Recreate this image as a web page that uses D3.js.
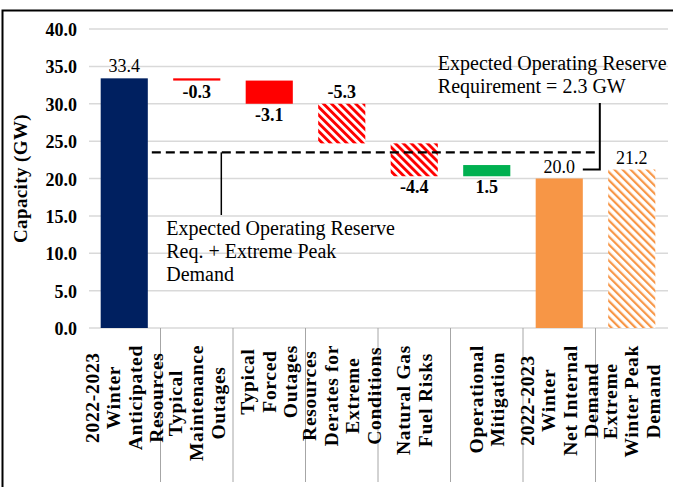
<!DOCTYPE html>
<html lang="en">
<head>
<meta charset="UTF-8">
<title>Winter capacity waterfall</title>
<script src="https://cdn.jsdelivr.net/npm/d3@7"></script>
<style>
  body { margin: 0; background: #fff; }
  text { font-family: "Liberation Serif", "Times New Roman", serif; fill: #000; }
</style>
</head>
<body>
<svg id="chart" width="673" height="487"></svg>
<script>
// ---- data ----
var categories = [
  ["2022-2023", "Winter", "Anticipated", "Resources"],
  ["Typical", "Maintenance", "Outages"],
  ["Typical", "Forced", "Outages"],
  ["Resources", "Derates for", "Extreme", "Conditions"],
  ["Natural Gas", "Fuel Risks"],
  ["Operational", "Mitigation"],
  ["2022-2023", "Winter", "Net Internal", "Demand"],
  ["Extreme", "Winter Peak", "Demand"]
];
var values = [33.4, -0.3, -3.1, -5.3, -4.4, 1.5, 20.0, 21.2];
var isTotal = [true, false, false, false, false, false, true, true];
var yTicks = [0, 5, 10, 15, 20, 25, 30, 35, 40];
var reserveReq = 2.3;
var noteRight = ["Expected Operating Reserve", "Requirement = 2.3 GW"];
var noteLeft = ["Expected Operating Reserve", "Req. + Extreme Peak", "Demand"];

// ---- look ----
var barFills = ["#002060", "#FF0000", "#FF0000", "url(#hatchRed)", "url(#hatchRed)",
                "#00B050", "#F79646", "url(#hatchOrange)"];
var labelSide = ["above", "below", "below", "above", "below", "below", "above", "above"];

var fmt = d3.formatLocale({decimal: ".", thousands: ",", grouping: [3], currency: ["", ""], minus: "-"})
    .format(".1f");

var svg = d3.select("#chart");
var margin = {top: 29, left: 88, right: 5};
var plotRight = 668;
var plotBottom = 328;

var x = d3.scaleBand()
    .domain(d3.range(values.length))
    .range([margin.left, plotRight])
    .paddingInner(0.35)
    .paddingOuter(0.175);

var y = d3.scaleLinear()
    .domain([0, 40])
    .range([plotBottom, margin.top]);

// waterfall spans
var running = 0;
var spans = values.map(function (v, i) {
    var s;
    if (isTotal[i]) {
        s = {lo: 0, hi: v};
        running = v;
    } else {
        s = {lo: Math.min(running, running + v), hi: Math.max(running, running + v)};
        running += v;
    }
    s.v = v;
    s.i = i;
    return s;
});

// patterns
var defs = svg.append("defs");
function hatch(id, color, thick) {
    var p = defs.append("pattern")
        .attr("id", id)
        .attr("patternUnits", "userSpaceOnUse")
        .attr("width", 5.7)
        .attr("height", 5.7)
        .attr("patternTransform", "rotate(-45)");
    p.append("rect").attr("width", 5.7).attr("height", 5.7).attr("fill", "#fff");
    p.append("rect").attr("width", thick).attr("height", 5.7).attr("fill", color);
}
hatch("hatchRed", "#FF0000", 2.9);
hatch("hatchOrange", "#F79646", 2.2);

// border
svg.append("rect")
    .attr("x", 2.5).attr("y", 10.5)
    .attr("width", 720).attr("height", 520)
    .attr("fill", "none")
    .attr("stroke", "#000")
    .attr("stroke-width", 2);

// gridlines
svg.append("g").selectAll("line")
    .data(yTicks)
    .enter().append("line")
    .attr("x1", margin.left + 1).attr("x2", plotRight)
    .attr("y1", function (d) { return y(d); })
    .attr("y2", function (d) { return y(d); })
    .attr("stroke", "#d9d9d9")
    .attr("stroke-width", 1.5);

// y tick labels
svg.append("g").selectAll("text")
    .data(yTicks)
    .enter().append("text")
    .attr("x", 77)
    .attr("y", function (d) { return y(d) + 7; })
    .attr("text-anchor", "end")
    .style("font-size", "18px")
    .style("font-weight", "bold")
    .text(function (d) { return fmt(d); });

// y title
svg.append("text")
    .attr("transform", "translate(20," + ((plotBottom + margin.top) / 2) + ") rotate(-90)")
    .attr("text-anchor", "middle")
    .attr("dominant-baseline", "central")
    .style("font-size", "19px")
    .style("font-weight", "bold")
    .style("letter-spacing", "0.4px")
    .text("Capacity (GW)");

// category separators
svg.append("g").selectAll("line")
    .data(d3.range(1, values.length))
    .enter().append("line")
    .attr("x1", function (d) { return x(d) - x.step() * x.paddingInner() / 2; })
    .attr("x2", function (d) { return x(d) - x.step() * x.paddingInner() / 2; })
    .attr("y1", plotBottom).attr("y2", 482)
    .attr("stroke", "#a6a6a6")
    .attr("stroke-width", 1);

// category labels (rotated, each line centred in its block)
var lineGap = 21.5;
categories.forEach(function (lines, i) {
    var cx = x(i) + x.bandwidth() / 2;
    var g = svg.append("g");
    var texts = g.selectAll("text")
        .data(lines)
        .enter().append("text")
        .attr("text-anchor", "middle")
        .attr("dominant-baseline", "central")
        .style("font-size", "19.5px")
        .style("font-weight", "bold")
        .style("letter-spacing", "0.7px")
        .text(function (d) { return d; });
    var maxLen = 0;
    texts.each(function () { maxLen = Math.max(maxLen, this.getComputedTextLength()); });
    var cy = plotBottom + 17 + maxLen / 2;
    texts.attr("transform", function (d, j) {
        var lx = cx + (j - (lines.length - 1) / 2) * lineGap;
        return "translate(" + lx + "," + cy + ") rotate(-90)";
    });
});

// bars
svg.append("g").selectAll("rect")
    .data(spans)
    .enter().append("rect")
    .attr("x", function (d) { return x(d.i); })
    .attr("width", x.bandwidth())
    .attr("y", function (d) { return y(d.hi); })
    .attr("height", function (d) { return y(d.lo) - y(d.hi); })
    .attr("fill", function (d) { return barFills[d.i]; });

// value labels
svg.append("g").selectAll("text")
    .data(spans)
    .enter().append("text")
    .attr("x", function (d) { return x(d.i) + x.bandwidth() / 2; })
    .attr("y", function (d) {
        return labelSide[d.i] === "above" ? y(d.hi) - 6 : y(d.lo) + 17;
    })
    .attr("text-anchor", "middle")
    .style("font-size", "18px")
    .style("font-weight", function (d) { return isTotal[d.i] ? "normal" : "bold"; })
    .text(function (d) { return fmt(d.v); });

// reserve requirement line
var reqLevel = values[7] + reserveReq;
var dashStart = x(0) + x.bandwidth() + 4;
var bracketX = x(6) + x.bandwidth() + 17;
svg.append("line")
    .attr("x1", dashStart).attr("x2", bracketX)
    .attr("y1", y(reqLevel)).attr("y2", y(reqLevel))
    .attr("stroke", "#000")
    .attr("stroke-width", 2.2)
    .attr("stroke-dasharray", "9,5");

// bracket for the 2.3 GW requirement
svg.append("path")
    .attr("d", "M" + bracketX + "," + 103 +
               "V" + y(values[7]) +
               "H" + (x(6) + x.bandwidth()))
    .attr("fill", "none")
    .attr("stroke", "#000")
    .attr("stroke-width", 2);

// left callout leader
var leaderX = x(1) + x.bandwidth() + 1;
svg.append("line")
    .attr("x1", leaderX).attr("x2", leaderX)
    .attr("y1", y(reqLevel)).attr("y2", 215)
    .attr("stroke", "#000")
    .attr("stroke-width", 1.5);

function note(lines, x0, y0) {
    svg.append("g").selectAll("text")
        .data(lines)
        .enter().append("text")
        .attr("x", x0)
        .attr("y", function (d, j) { return y0 + j * 22.8; })
        .style("font-size", "20px")
        .text(function (d) { return d; });
}
note(noteRight, x(4) + x.bandwidth(), 70);
note(noteLeft, x(1) - 7, 235);
</script>
</body>
</html>
